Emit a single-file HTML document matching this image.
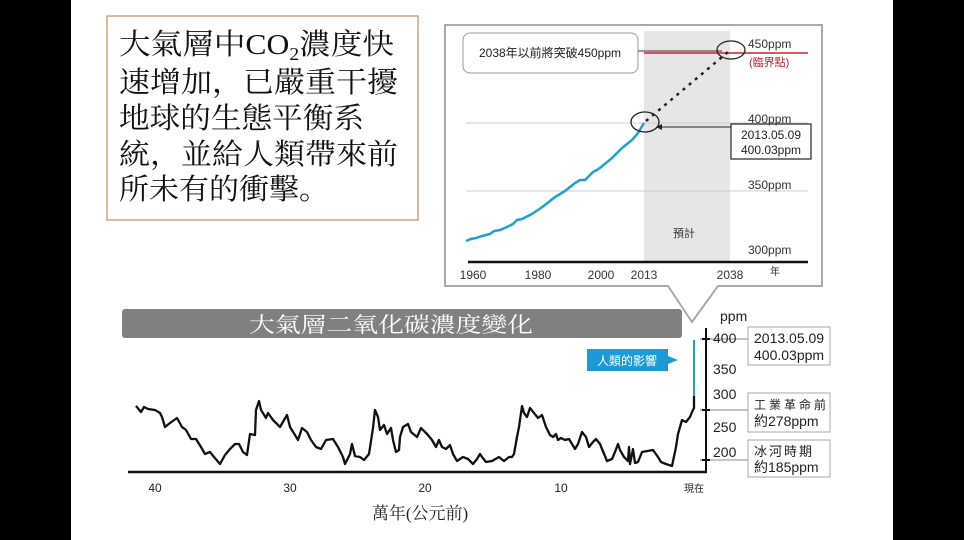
<!DOCTYPE html>
<html><head><meta charset="utf-8"><style>
html,body{margin:0;padding:0;background:#000;}
svg{display:block}
</style></head><body>
<svg width="964" height="540" viewBox="0 0 964 540" xmlns="http://www.w3.org/2000/svg" font-family="Liberation Sans, Noto Sans CJK TC, sans-serif">
<rect x="0" y="0" width="964" height="540" fill="#000"/>
<rect x="71" y="0" width="822" height="540" fill="#fff"/>
<!-- text box -->
<rect x="107" y="16" width="311" height="204" fill="#fff" stroke="#c9a878" stroke-width="1.5"/>
<g font-family="Liberation Serif, Noto Serif CJK SC, serif" font-size="29" fill="#111">
<text x="119" y="54" textLength="275" lengthAdjust="spacingAndGlyphs">大氣層中CO<tspan font-size="18" dy="6">2</tspan><tspan dy="-6">濃度快</tspan></text>
<text x="119" y="92" textLength="279" lengthAdjust="spacingAndGlyphs">速增加，已嚴重干擾</text>
<text x="119" y="128" textLength="245" lengthAdjust="spacingAndGlyphs">地球的生態平衡系</text>
<text x="119" y="164" textLength="279" lengthAdjust="spacingAndGlyphs">統，並給人類帶來前</text>
<text x="119" y="199" textLength="210" lengthAdjust="spacingAndGlyphs">所未有的衝擊。</text>
</g>
<!-- inset -->
<path d="M445,25 H822 V286 H718 L692,322 L668,286 H445 Z" fill="#fff" stroke="#aaa" stroke-width="2"/>
<rect x="644" y="31" width="86" height="231" fill="#e6e6e6"/>
<line x1="466" y1="123" x2="808" y2="123" stroke="#ccc" stroke-width="1"/>
<line x1="466" y1="191" x2="808" y2="191" stroke="#ccc" stroke-width="1"/>
<line x1="644" y1="53" x2="808" y2="53" stroke="#d02030" stroke-width="1.5"/>
<line x1="638" y1="51" x2="722" y2="51" stroke="#333" stroke-width="1"/>
<line x1="468" y1="262" x2="808" y2="262" stroke="#111" stroke-width="2.5"/>
<polyline fill="none" stroke="#1ca0d8" stroke-width="2.5" points="466,241 471,239 476,238 482,236 490,234 494,231 500,230 507,227 513,224 517,220 522,219 530,215 538,210 545,205 550,201 555,197 560,194 565,191 570,187 575,183 580,180 585,180 590,175 593,172 597,170 601,167 606,163 612,158 617,153 622,148 627,144 632,140 638,133 644,123"/>
<line x1="646" y1="121" x2="728" y2="52" stroke="#222" stroke-width="2.5" stroke-dasharray="3,5"/>
<ellipse cx="645" cy="122" rx="14" ry="10" fill="none" stroke="#222" stroke-width="1.3"/>
<ellipse cx="731" cy="50" rx="14" ry="9" fill="none" stroke="#222" stroke-width="1.3"/>
<rect x="463" y="33" width="175" height="40" rx="7" fill="#fff" stroke="#999"/>
<text x="550" y="57" font-size="12" text-anchor="middle" fill="#222">2038年以前將突破450ppm</text>
<line x1="657" y1="127" x2="732" y2="127" stroke="#222" stroke-width="1"/>
<path d="M656,127 l6,-3 v6 z" fill="#222"/>
<rect x="731" y="124" width="80" height="35" fill="#fff" stroke="#333" stroke-width="1.3"/>
<text x="771" y="139" font-size="12" text-anchor="middle" fill="#222">2013.05.09</text>
<text x="771" y="154" font-size="12" text-anchor="middle" fill="#222">400.03ppm</text>
<g font-size="12" fill="#333">
<text x="748" y="48">450ppm</text>
<text x="749" y="66" fill="#c02030" font-size="11">(臨界點)</text>
<text x="748" y="123">400ppm</text>
<text x="748" y="189">350ppm</text>
<text x="748" y="254">300ppm</text>
<text x="673" y="237" font-size="11">預計</text>
<text x="473" y="279" text-anchor="middle">1960</text>
<text x="538" y="279" text-anchor="middle">1980</text>
<text x="601" y="279" text-anchor="middle">2000</text>
<text x="644" y="279" text-anchor="middle">2013</text>
<text x="730" y="279" text-anchor="middle">2038</text>
<text x="770" y="275" font-size="10">年</text>
</g>
<!-- bottom chart -->
<rect x="122" y="309" width="560" height="29" rx="3" fill="#808080"/>
<text x="391" y="332" font-size="21" fill="#fff" text-anchor="middle" textLength="284" lengthAdjust="spacingAndGlyphs" font-family="Liberation Serif, Noto Serif CJK SC, serif">大氣層二氧化碳濃度變化</text>
<line x1="128" y1="472" x2="707" y2="472" stroke="#111" stroke-width="2.5"/>
<line x1="706" y1="328" x2="706" y2="473" stroke="#111" stroke-width="2"/>
<line x1="700" y1="339" x2="748" y2="339" stroke="#888" stroke-width="1"/>
<line x1="700" y1="410" x2="748" y2="410" stroke="#888" stroke-width="1"/>
<line x1="700" y1="460" x2="748" y2="460" stroke="#888" stroke-width="1"/>
<line x1="702" y1="339" x2="710" y2="339" stroke="#111" stroke-width="2"/>
<line x1="702" y1="410" x2="710" y2="410" stroke="#111" stroke-width="2"/>
<line x1="702" y1="460" x2="710" y2="460" stroke="#111" stroke-width="2"/>
<polyline fill="none" stroke="#111" stroke-width="2.3" stroke-linejoin="round" points="136,406 141,412 144,407 148,409 155,410 160,413 162,417 165,427 170,423 177,418 182,427 186,430 191,439 196,439 201,447 205,454 210,452 214,457 220,464 225,455 230,449 235,444 239,444 243,452 247,455 250,434 255,435 256,410 259,401 261,410 266,418 268,413 273,420 280,427 287,415 290,427 295,435 298,440 302,428 307,432 311,440 316,447 321,449 326,440 333,439 338,447 343,457 345,464 350,454 352,444 355,456 360,457 364,460 369,454 373,428 375,410 378,417 380,430 384,425 387,434 391,428 393,440 396,452 399,450 400,437 403,427 408,424 411,432 417,437 421,428 427,434 432,440 436,447 439,440 442,447 446,449 450,445 453,454 457,461 463,457 468,459 473,464 477,459 480,454 482,457 486,462 492,461 499,457 504,461 509,457 512,457 514,454 517,437 519,427 522,406 524,413 527,417 530,408 534,413 538,418 542,415 546,427 550,435 553,437 556,434 558,440 561,438 565,440 569,439 575,449 578,444 582,432 586,437 589,447 593,442 596,439 600,444 607,461 612,459 615,452 618,444 620,450 624,457 628,461 629,447 630,464 633,449 635,463 638,462 642,452 653,450 658,457 661,462 666,464 672,466 676,447 678,434 682,420 686,422 690,417 692,412 694,408 694,395"/>
<line x1="694" y1="340" x2="694" y2="396" stroke="#1ca0d8" stroke-width="2"/>
<rect x="587" y="349" width="81" height="22" fill="#1c9ad8"/>
<path d="M668,356 L678,360 L668,364 Z" fill="#1c9ad8"/>
<text x="627" y="365" font-size="12" fill="#fff" text-anchor="middle">人類的影響</text>
<g font-size="14" fill="#222">
<text x="720" y="321">ppm</text>
<text x="713" y="343">400</text>
<text x="713" y="374">350</text>
<text x="713" y="399">300</text>
<text x="713" y="432">250</text>
<text x="713" y="457">200</text>
</g>
<rect x="748" y="327" width="82" height="38" fill="#fff" stroke="#aaa"/>
<text x="754" y="343" font-size="14" fill="#222">2013.05.09</text>
<text x="754" y="360" font-size="14" fill="#222">400.03ppm</text>
<rect x="748" y="393" width="82" height="39" fill="#fff" stroke="#aaa"/>
<text x="754" y="409" font-size="12" fill="#222" letter-spacing="3">工業革命前</text>
<text x="754" y="426" font-size="14" fill="#222">約278ppm</text>
<rect x="748" y="440" width="82" height="37" fill="#fff" stroke="#aaa"/>
<text x="754" y="456" font-size="13" fill="#222" letter-spacing="2">冰河時期</text>
<text x="754" y="472" font-size="14" fill="#222">約185ppm</text>
<g font-size="12" fill="#222" text-anchor="middle">
<text x="155" y="492">40</text>
<text x="290" y="492">30</text>
<text x="425" y="492">20</text>
<text x="561" y="492">10</text>
<text x="694" y="492" font-size="10">現在</text>
</g>
<text x="420" y="519" font-size="17" fill="#222" text-anchor="middle" font-family="Liberation Serif, Noto Serif CJK SC, serif">萬年(公元前)</text>
</svg>
</body></html>
